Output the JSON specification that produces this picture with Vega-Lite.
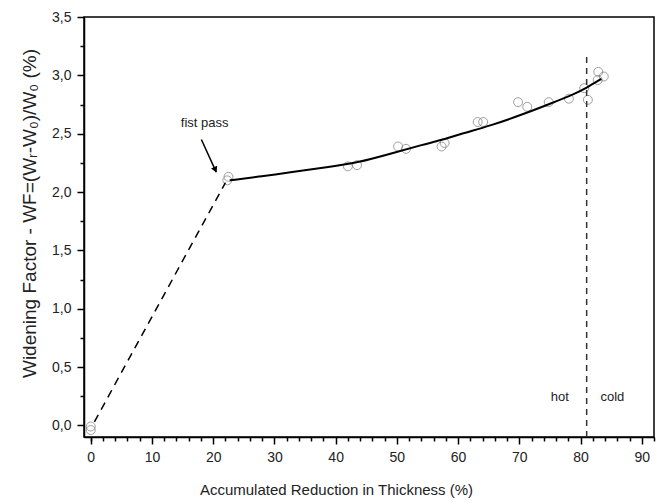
{
  "$schema": "https://vega.github.io/schema/vega-lite/v6.json",
  "width": 570,
  "height": 420,
  "autosize": "none",
  "padding": {"left": 84, "top": 17, "right": 13, "bottom": 66},
  "background": "white",
  "config": {
    "view": {"stroke": "black", "strokeWidth": 1.5},
    "axis": {
      "grid": false,
      "domainColor": "black",
      "domainWidth": 1.5,
      "tickColor": "black",
      "tickWidth": 1.5,
      "labelFont": "Liberation Sans",
      "labelFontSize": 14,
      "labelColor": "#222",
      "titleFont": "Liberation Sans",
      "titleFontWeight": "normal",
      "titleColor": "#222"
    },
    "text": {"font": "Liberation Sans", "color": "#222"}
  },
  "datasets": {
    "measured": [
      {"reduction": 0.0, "wf": -0.01},
      {"reduction": 0.0, "wf": -0.04},
      {"reduction": 22.3, "wf": 2.10},
      {"reduction": 22.5, "wf": 2.13},
      {"reduction": 42.0, "wf": 2.22},
      {"reduction": 43.5, "wf": 2.23},
      {"reduction": 50.2, "wf": 2.39},
      {"reduction": 51.5, "wf": 2.37},
      {"reduction": 57.3, "wf": 2.39},
      {"reduction": 57.8, "wf": 2.42},
      {"reduction": 63.2, "wf": 2.60},
      {"reduction": 64.1, "wf": 2.60},
      {"reduction": 69.8, "wf": 2.77},
      {"reduction": 71.3, "wf": 2.73},
      {"reduction": 74.8, "wf": 2.77},
      {"reduction": 78.1, "wf": 2.80},
      {"reduction": 80.6, "wf": 2.89},
      {"reduction": 81.2, "wf": 2.79},
      {"reduction": 82.9, "wf": 3.03},
      {"reduction": 82.8, "wf": 2.96},
      {"reduction": 83.8, "wf": 2.99}
    ],
    "fit": [
      {"reduction": 22.7, "wf": 2.10},
      {"reduction": 28.0, "wf": 2.135},
      {"reduction": 32.8, "wf": 2.17},
      {"reduction": 38.2, "wf": 2.21},
      {"reduction": 43.6, "wf": 2.25},
      {"reduction": 49.1, "wf": 2.33},
      {"reduction": 54.5, "wf": 2.41},
      {"reduction": 57.0, "wf": 2.44},
      {"reduction": 60.5, "wf": 2.50},
      {"reduction": 65.4, "wf": 2.57},
      {"reduction": 70.3, "wf": 2.66},
      {"reduction": 75.2, "wf": 2.76},
      {"reduction": 79.0, "wf": 2.84},
      {"reduction": 80.9, "wf": 2.89},
      {"reduction": 83.4, "wf": 2.97}
    ],
    "firstLeg": [
      {"reduction": 0.6, "wf": 0.03},
      {"reduction": 22.0, "wf": 2.08}
    ],
    "boundary": [
      {"reduction": 81.0, "y0": -0.1, "y1": 3.19}
    ],
    "arrow": [
      {"x0": 18.07, "y0": 2.45, "x1": 20.5, "y1": 2.17}
    ],
    "arrowHead": [
      {"reduction": 20.35, "wf": 2.19}
    ],
    "notes": [
      {"reduction": 18.6, "wf": 2.59, "label": "fist pass"},
      {"reduction": 76.6, "wf": 0.245, "label": "hot"},
      {"reduction": 85.2, "wf": 0.245, "label": "cold"}
    ]
  },
  "resolve": {"axis": {"x": "independent", "y": "independent"}},
  "layer": [
    {
      "data": {"name": "measured"},
      "mark": {"type": "point", "shape": "circle", "filled": false, "stroke": "#777", "strokeWidth": 1, "size": 80},
      "encoding": {
        "x": {
          "field": "reduction", "type": "quantitative",
          "scale": {"domain": [-1.1, 92], "nice": false, "zero": false},
          "axis": {
            "orient": "bottom",
            "values": [0, 10, 20, 30, 40, 50, 60, 70, 80, 90],
            "tickSize": 7,
            "labelPadding": 6,
            "title": "Accumulated Reduction in Thickness (%)",
            "titleFontSize": 15,
            "titlePadding": 18,
            "titleX": 252,
            "titleAlign": "center"
          }
        },
        "y": {
          "field": "wf", "type": "quantitative",
          "scale": {"domain": [-0.1, 3.5], "nice": false, "zero": false},
          "axis": {
            "orient": "left",
            "values": [0, 0.5, 1, 1.5, 2, 2.5, 3, 3.5],
            "tickSize": 7,
            "labelPadding": 6,
            "labelExpr": "replace(format(datum.value, '.1f'), '.', ',')",
            "title": "Widening Factor - WF=(Wᵣ-W₀)/W₀ (%)",
            "titleFontSize": 19,
            "titlePadding": 12,
            "titleY": 196,
            "titleAlign": "center"
          }
        }
      }
    },
    {
      "data": {"name": "fit"},
      "mark": {"type": "line", "color": "black", "strokeWidth": 2, "interpolate": "basis"},
      "encoding": {
        "x": {
          "field": "reduction", "type": "quantitative",
          "axis": {
            "orient": "bottom",
            "values": [0, 2, 4, 6, 8, 12, 14, 16, 18, 22, 24, 26, 28, 32, 34, 36, 38, 42, 44, 46, 48, 52, 54, 56, 58, 62, 64, 66, 68, 72, 74, 76, 78, 82, 84, 86, 88, 92],
            "tickSize": 4,
            "labels": false,
            "domain": false,
            "title": null
          }
        },
        "y": {
          "field": "wf", "type": "quantitative",
          "axis": {
            "orient": "left",
            "values": [0.25, 0.75, 1.25, 1.75, 2.25, 2.75, 3.25],
            "tickSize": 4,
            "labels": false,
            "domain": false,
            "title": null
          }
        }
      }
    },
    {
      "data": {"name": "firstLeg"},
      "mark": {"type": "line", "color": "black", "strokeWidth": 1.5, "strokeDash": [8, 6]},
      "encoding": {
        "x": {"field": "reduction", "type": "quantitative", "axis": null},
        "y": {"field": "wf", "type": "quantitative", "axis": null}
      }
    },
    {
      "data": {"name": "boundary"},
      "mark": {"type": "rule", "color": "#333", "strokeWidth": 1.5, "strokeDash": [6, 5]},
      "encoding": {
        "x": {"field": "reduction", "type": "quantitative", "axis": null},
        "y": {"field": "y0", "type": "quantitative", "axis": null},
        "y2": {"field": "y1"}
      }
    },
    {
      "data": {"name": "arrow"},
      "mark": {"type": "rule", "color": "black", "strokeWidth": 1.5},
      "encoding": {
        "x": {"field": "x0", "type": "quantitative", "axis": null},
        "y": {"field": "y0", "type": "quantitative", "axis": null},
        "x2": {"field": "x1"},
        "y2": {"field": "y1"}
      }
    },
    {
      "data": {"name": "arrowHead"},
      "mark": {"type": "point", "shape": "triangle-up", "filled": true, "color": "black", "opacity": 1, "size": 45, "angle": 156},
      "encoding": {
        "x": {"field": "reduction", "type": "quantitative", "axis": null},
        "y": {"field": "wf", "type": "quantitative", "axis": null}
      }
    },
    {
      "data": {"name": "notes"},
      "mark": {"type": "text", "fontSize": 13, "align": "center", "baseline": "middle"},
      "encoding": {
        "x": {"field": "reduction", "type": "quantitative", "axis": null},
        "y": {"field": "wf", "type": "quantitative", "axis": null},
        "text": {"field": "label"}
      }
    }
  ]
}
